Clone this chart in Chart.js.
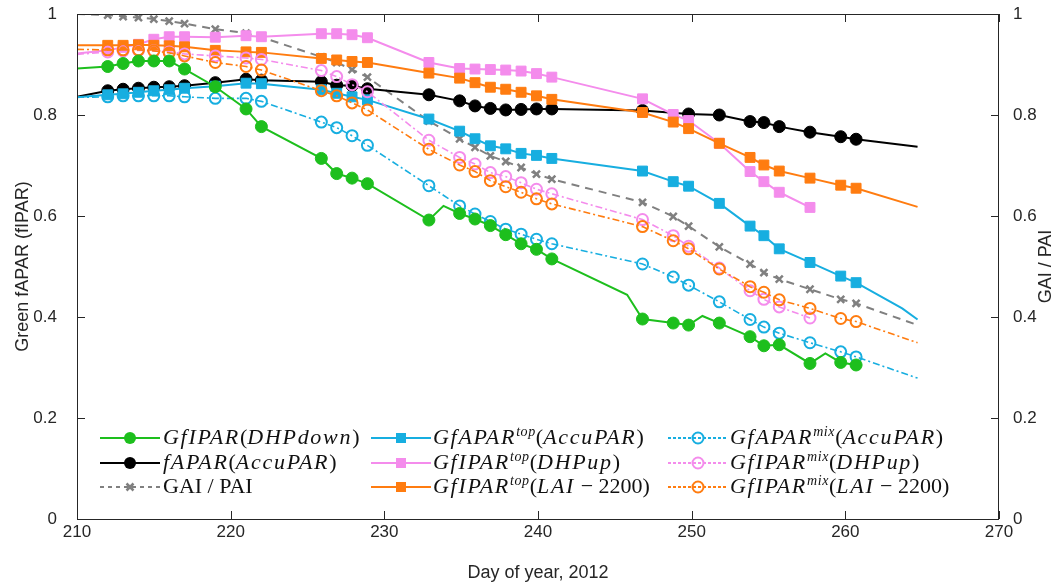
<!DOCTYPE html>
<html><head><meta charset="utf-8">
<script src="https://cdn.jsdelivr.net/npm/chart.js@4"></script>
<style>
body{margin:0;background:#fff}
#wrap{position:relative;width:1059px;height:585px}
.lg{position:absolute;font-family:"Liberation Serif",serif;font-size:22px;color:#111;white-space:nowrap;line-height:24px;height:24px}
.m{font-style:italic;letter-spacing:1.7px}
.sp{font-style:italic;font-size:14px;position:relative;top:-8px;letter-spacing:0.6px}
.smp{position:absolute}
</style>
</head><body>
<div id="wrap"><canvas id="c" width="1059" height="585"></canvas><div id="legend"></div></div>
<script>
// ---- data ----
const days = [212,213,214,215,216,217,219,221,222,225.9,226.9,227.9,228.9,232.9,234.9,235.9,236.9,237.9,238.9,239.9,240.9,246.8,248.8,249.8,251.8,253.8,254.7,255.7,257.7,259.7,260.7];

const greenDHPdown = [0.896,0.902,0.907,0.907,0.907,0.891,0.856,0.812,0.777,0.714,0.684,0.675,0.664,0.592,0.605,0.594,0.581,0.563,0.545,0.534,0.515,0.396,0.388,0.384,0.388,0.361,0.343,0.345,0.308,0.310,0.305];
const greenLineX = [210,233.85,245.8,250.7,258.7];
const greenLineY = [0.892,0.620,0.444,0.402,0.328];

const faparAccu = [0.848,0.851,0.853,0.855,0.856,0.858,0.864,0.871,0.869,0.866,0.859,0.858,0.852,0.840,0.828,0.818,0.813,0.810,0.811,0.812,0.812,0.809,null,0.802,0.800,0.787,0.785,0.777,0.766,0.757,0.752];
const faparLineX = [210,264.7];
const faparLineY = [0.836,0.737];

const gaiPai = [0.998,0.995,0.993,0.990,0.986,0.981,0.970,0.962,0.954,0.915,0.904,0.890,0.875,0.788,0.753,0.736,0.719,0.708,0.696,0.683,0.673,0.627,0.599,0.580,0.539,0.505,0.488,0.475,0.455,0.435,0.427];
const gaiLineX = [210,264.7];
const gaiLineY = [1.0,0.384];

const topAccu = [0.840,0.842,0.845,0.848,0.850,0.853,0.857,0.863,0.862,0.850,0.843,0.836,0.830,0.792,0.768,0.753,0.739,0.733,0.724,0.720,0.714,0.689,0.668,0.659,0.625,0.580,0.561,0.535,0.508,0.481,0.468];
const topAccuLineX = [210,263.7,264.7];
const topAccuLineY = [0.835,0.417,0.395];

const topDHP = [0.928,0.934,0.940,0.950,0.955,0.955,0.954,0.957,0.955,0.961,0.961,0.959,0.953,0.904,0.892,0.891,0.890,0.889,0.887,0.882,0.875,0.832,0.801,0.789,0.744,0.688,0.668,0.647,0.617,null,null];
const topDHPLineX = [210];
const topDHPLineY = [0.922];

const topLAI = [0.938,0.938,0.939,0.938,0.937,0.935,0.928,0.925,0.924,0.912,0.909,0.906,0.904,0.883,0.873,0.864,0.855,0.851,0.845,0.838,0.831,0.805,0.786,0.773,0.744,0.716,0.701,0.689,0.675,0.661,0.655];
const topLAILineX = [210,264.7];
const topLAILineY = [0.938,0.618];

const mixAccu = [0.836,0.838,0.838,0.838,0.838,0.836,0.833,0.833,0.827,0.786,0.775,0.759,0.740,0.660,0.620,0.604,0.589,0.574,0.564,0.554,0.545,0.505,0.479,0.463,0.430,0.395,0.380,0.368,0.349,0.331,0.321];
const mixAccuLineX = [210,264.7];
const mixAccuLineY = [0.835,0.279];

const mixDHP = [0.925,0.927,0.928,0.927,0.925,0.921,0.917,0.913,0.910,0.888,0.876,0.860,0.846,0.750,0.716,0.703,0.686,0.678,0.666,0.653,0.644,0.593,0.561,0.540,0.497,0.452,0.435,0.420,0.398,null,null];
const mixDHPLineX = [210];
const mixDHPLineY = [0.920];

const mixLAI = [0.929,0.929,0.929,0.927,0.923,0.917,0.904,0.896,0.889,0.848,0.838,0.824,0.810,0.732,0.701,0.688,0.670,0.658,0.647,0.634,0.624,0.579,0.551,0.535,0.495,0.460,0.449,0.434,0.417,0.397,0.391];
const mixLAILineX = [210,264.7];
const mixLAILineY = [0.930,0.349];

const xTicks = [210,220,230,240,250,260,270];
const yTicks = [0,0.2,0.4,0.6,0.8,1];

// ---- build ----
function pts(vals, lx, ly){
  const a = [];
  vals.forEach((v,i)=>{ if(v!==null) a.push({x:days[i], y:v, m:true}); });
  lx.forEach((x,i)=>a.push({x:x, y:ly[i], m:false}));
  a.sort((p,q)=>p.x-q.x);
  return a;
}
const C = {green:'#1dbf1d', black:'#000000', gray:'#808080', cyan:'#17aee0', pink:'#f48cec', orange:'#ff7c10'};
const DASH = [7,3,2,3];
function ds(label, data, color, style, opts){
  const r = opts.r;
  return {
    label, data, borderColor: color, backgroundColor: opts.open ? 'rgba(0,0,0,0)' : color,
    borderWidth: opts.lw || 2, pointStyle: style,
    pointRadius: c => (c.raw && c.raw.m) ? r : 0,
    pointHoverRadius: c => (c.raw && c.raw.m) ? r : 0,
    pointBorderWidth: opts.pbw || 1, pointBorderColor: color,
    pointBackgroundColor: opts.open ? 'rgba(0,0,0,0)' : color,
    borderDash: opts.dash || [], tension: 0, yAxisID: 'y', fill: false
  };
}
const datasets = [
  ds('GfIPAR(DHPdown)', pts(greenDHPdown, greenLineX, greenLineY), C.green, 'circle', {r:6}),
  ds('GfIPARmix(LAI-2200)', pts(mixLAI, mixLAILineX, mixLAILineY), C.orange, 'circle', {r:5.5, open:true, pbw:2, dash:DASH, lw:1.6}),
  ds('GfIPARmix(DHPup)', pts(mixDHP, mixDHPLineX, mixDHPLineY), C.pink, 'circle', {r:5.5, open:true, pbw:2, dash:DASH, lw:1.6}),
  ds('GfAPARmix(AccuPAR)', pts(mixAccu, mixAccuLineX, mixAccuLineY), C.cyan, 'circle', {r:5.5, open:true, pbw:2, dash:DASH, lw:1.6}),
  ds('GfIPARtop(LAI-2200)', pts(topLAI, topLAILineX, topLAILineY), C.orange, 'rect', {r:7}),
  ds('GfIPARtop(DHPup)', pts(topDHP, topDHPLineX, topDHPLineY), C.pink, 'rect', {r:7}),
  ds('GfAPARtop(AccuPAR)', pts(topAccu, topAccuLineX, topAccuLineY), C.cyan, 'rect', {r:7}),
  ds('fAPAR(AccuPAR)', pts(faparAccu, faparLineX, faparLineY), C.black, 'circle', {r:6}),
  ds('GAI / PAI', pts(gaiPai, gaiLineX, gaiLineY), C.gray, 'crossRot', {r:5, pbw:2.5, dash:[8,6]}),
];

const TXT = '#262626';
const frame = {
  id:'frame',
  afterDraw(chart){
    const {ctx, chartArea:a, scales} = chart;
    ctx.save();
    ctx.strokeStyle = TXT; ctx.lineWidth = 1;
    ctx.strokeRect(a.left+0.5, a.top+0.5, a.right-a.left-1, a.bottom-a.top);
    const L = 8;
    ctx.beginPath();
    xTicks.forEach(v=>{
      const x = Math.round(scales.x.getPixelForValue(v))+0.5;
      ctx.moveTo(x, a.bottom); ctx.lineTo(x, a.bottom-L);
      ctx.moveTo(x, a.top); ctx.lineTo(x, a.top+L);
    });
    yTicks.forEach(v=>{
      const y = Math.round(scales.y.getPixelForValue(v))+0.5;
      ctx.moveTo(a.left, y); ctx.lineTo(a.left+L, y);
      ctx.moveTo(a.right, y); ctx.lineTo(a.right-L, y);
    });
    ctx.stroke();
    ctx.translate(1046, (a.top+a.bottom)/2);
    ctx.rotate(-Math.PI/2);
    ctx.fillStyle = TXT; ctx.font = '18px "Liberation Sans", Arial, sans-serif';
    ctx.textAlign = 'center'; ctx.textBaseline = 'middle';
    ctx.fillText('GAI / PAI', 0, 0);
    ctx.restore();
  }
};

const tickFont = {family:'"Liberation Sans", Arial, sans-serif', size:17};
const fmt = v => String(+(+v).toFixed(2));
new Chart(document.getElementById('c'), {
  type:'line',
  data:{datasets},
  options:{
    responsive:false, animation:false,
    layout:{padding:{top:14,left:0,right:0,bottom:0}},
    plugins:{legend:{display:false}, tooltip:{enabled:false}},
    scales:{
      x:{type:'linear', min:210, max:270, grid:{display:false}, border:{display:false},
         ticks:{stepSize:10, color:TXT, font:tickFont, padding:-5, callback:fmt},
         title:{display:true, text:'Day of year, 2012', color:TXT, font:{family:tickFont.family,size:18}, padding:{top:4,bottom:1}},
         afterFit(s){ s.height = 66; s.paddingLeft = 0; s.paddingRight = 0; }},
      y:{type:'linear', position:'left', min:0, max:1, grid:{display:false}, border:{display:false},
         ticks:{stepSize:0.2, color:TXT, font:tickFont, padding:12, callback:fmt},
         title:{display:true, text:'Green fAPAR (fIPAR)', color:TXT, font:{family:tickFont.family,size:18}, padding:{top:12,bottom:0}},
         afterFit(s){ s.width = 77; s.paddingTop = 0; s.paddingBottom = 0; }},
      y2:{type:'linear', position:'right', min:0, max:1, grid:{display:false}, border:{display:false},
         ticks:{stepSize:0.2, color:TXT, font:tickFont, padding:6, callback:fmt},
         afterFit(s){ s.width = 60; s.paddingTop = 0; s.paddingBottom = 0; }}
    }
  },
  plugins:[frame]
});

// ---- legend (HTML) ----
const legendItems = [
  {col:0,row:0,color:C.green,mk:'fc',dash:false,html:'<span class="m">GfIPAR</span>(<span class="m">DHPdown</span>)'},
  {col:0,row:1,color:C.black,mk:'fc',dash:false,html:'<span class="m">fAPAR</span>(<span class="m">AccuPAR</span>)'},
  {col:0,row:2,color:C.gray,mk:'x',dash:'4,4',html:'GAI / PAI'},
  {col:1,row:0,color:C.cyan,mk:'sq',dash:false,html:'<span class="m">GfAPAR</span><span class="sp">top</span>(<span class="m">AccuPAR</span>)'},
  {col:1,row:1,color:C.pink,mk:'sq',dash:false,html:'<span class="m">GfIPAR</span><span class="sp">top</span>(<span class="m">DHPup</span>)'},
  {col:1,row:2,color:C.orange,mk:'sq',dash:false,html:'<span class="m">GfIPAR</span><span class="sp">top</span>(<span class="m">LAI</span> − 2200)'},
  {col:2,row:0,color:C.cyan,mk:'oc',dash:'3,2',html:'<span class="m">GfAPAR</span><span class="sp">mix</span>(<span class="m">AccuPAR</span>)'},
  {col:2,row:1,color:C.pink,mk:'oc',dash:'3,2',html:'<span class="m">GfIPAR</span><span class="sp">mix</span>(<span class="m">DHPup</span>)'},
  {col:2,row:2,color:C.orange,mk:'oc',dash:'3,2',html:'<span class="m">GfIPAR</span><span class="sp">mix</span>(<span class="m">LAI</span> − 2200)'},
];
const colX = [100,371,668], textX = [163,433,730], rowY = [438,463,487];
const lg = document.getElementById('legend');
legendItems.forEach(it=>{
  const x0 = colX[it.col], y0 = rowY[it.row];
  let mk = '';
  if(it.mk==='fc') mk = `<circle cx="30" cy="10" r="6" fill="${it.color}"/>`;
  if(it.mk==='sq') mk = `<rect x="25" y="5" width="10" height="10" fill="${it.color}"/>`;
  if(it.mk==='oc') mk = `<circle cx="30" cy="10" r="5.5" fill="none" stroke="${it.color}" stroke-width="2"/>`;
  if(it.mk==='x') mk = `<path d="M26.5 6.5 L33.5 13.5 M33.5 6.5 L26.5 13.5" stroke="${it.color}" stroke-width="2.5"/>`;
  const dash = it.dash ? `stroke-dasharray="${it.dash}"` : '';
  const svg = `<svg class="smp" style="left:${x0}px;top:${y0-10}px" width="60" height="20"><line x1="0" y1="10" x2="60" y2="10" stroke="${it.color}" stroke-width="2" ${dash}/>${mk}</svg>`;
  lg.insertAdjacentHTML('beforeend', svg + `<div class="lg" style="left:${textX[it.col]}px;top:${y0-13}px">${it.html}</div>`);
});
</script>
</body></html>
